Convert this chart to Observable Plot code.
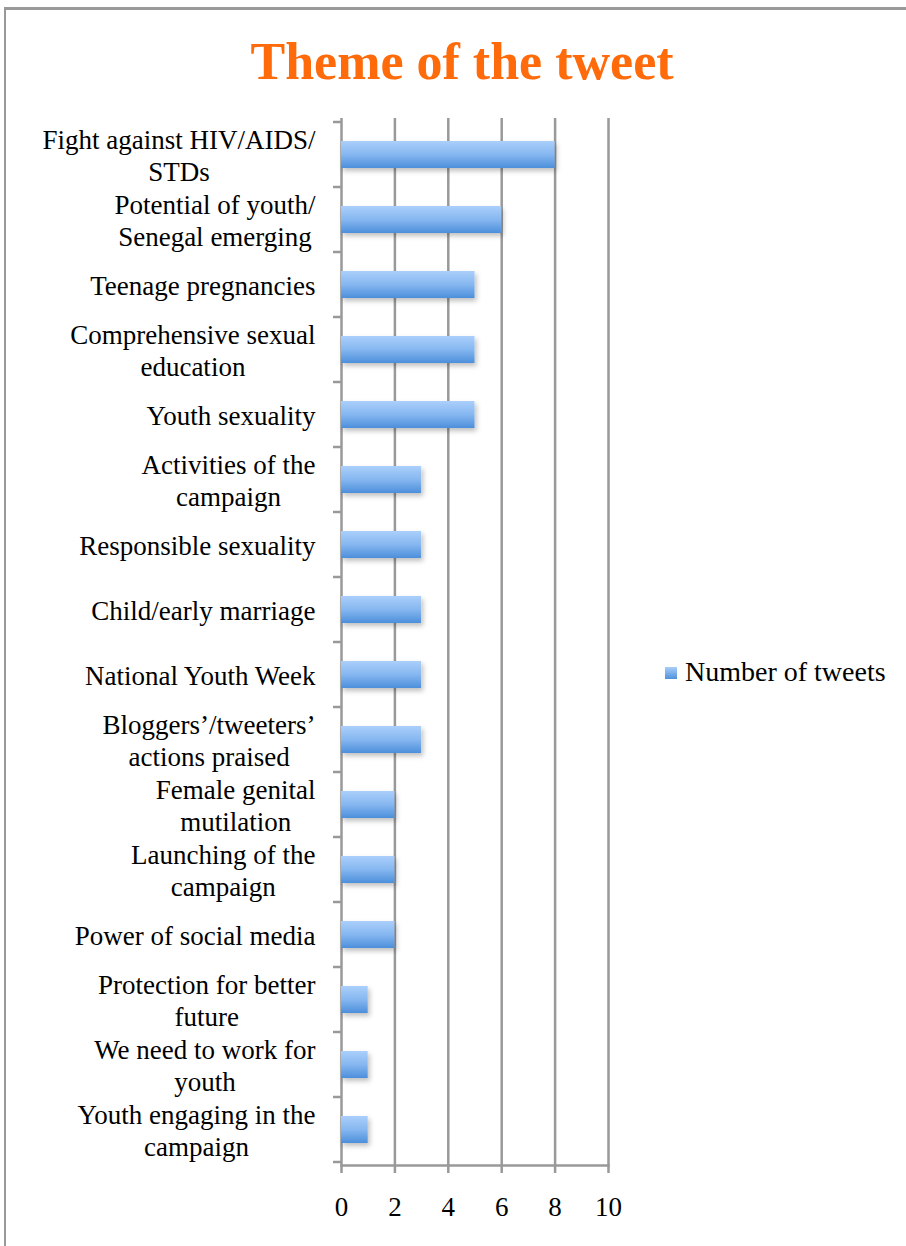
<!DOCTYPE html>
<html>
<head>
<meta charset="utf-8">
<script src="https://cdn.jsdelivr.net/npm/d3@7"></script>
<script src="https://cdn.jsdelivr.net/npm/@observablehq/plot@0.6"></script>
<style>
  html, body { margin: 0; padding: 0; background: #fff; overflow: hidden; }
  body { width: 906px; height: 1246px; position: relative; font-family: "Liberation Serif", serif; }
  #frame { position: absolute; left: 4px; top: 7px; width: 1000px; height: 1400px; border-left: 2px solid #999; border-top: 3px solid #999; }
  #title { position: absolute; left: 0; width: 924px; top: 36px; text-align: center; font-family: "Liberation Serif", serif; font-weight: bold; font-size: 52px; color: #ff6a0a; line-height: 1; }
  #chart { position: absolute; left: 0; top: 100px; }
  #legend { position: absolute; left: 665px; top: 656px; font-size: 28px; color: #000; display: flex; align-items: center; white-space: nowrap; }
  #legend .sw { width: 12px; height: 12px; background: linear-gradient(#a9cdf9, #4f91dc); margin-right: 8px; margin-top: 2px; }
</style>
</head>
<body>
<div id="frame"></div>
<div id="title">Theme of the tweet</div>
<div id="chart"></div>
<div id="legend"><span class="sw"></span><span>Number of tweets</span></div>
<script>
const themes = [
  "Fight against HIV/AIDS/\nSTDs",
  "Potential of youth/\nSenegal emerging",
  "Teenage pregnancies",
  "Comprehensive sexual\neducation",
  "Youth sexuality",
  "Activities of the\ncampaign",
  "Responsible sexuality",
  "Child/early marriage",
  "National Youth Week",
  "Bloggers’/tweeters’\nactions praised",
  "Female genital\nmutilation",
  "Launching of the\ncampaign",
  "Power of social media",
  "Protection for better\nfuture",
  "We need to work for\nyouth",
  "Youth engaging in the\ncampaign"
];
const tweetCounts = [8, 6, 5, 5, 5, 3, 3, 3, 3, 3, 2, 2, 2, 1, 1, 1];
const xTicks = [0, 2, 4, 6, 8, 10];
const seriesName = "Number of tweets";

const data = themes.map((t, i) => ({theme: t, count: tweetCounts[i]}));

const chart = Plot.plot({
  width: 906,
  height: 1146,
  marginTop: 18,
  marginBottom: 81,
  marginLeft: 341,
  marginRight: 298,
  style: {fontFamily: "Liberation Serif, serif", fontSize: "27px", color: "#000", background: "transparent"},
  x: {domain: [0, 10], ticks: xTicks},
  y: {domain: themes, paddingInner: 0.59, paddingOuter: 0.295},
  marks: [
    Plot.gridX(xTicks, {stroke: "#999", strokeOpacity: 1, strokeWidth: 2.5}),
    Plot.frame({anchor: "bottom", stroke: "#999", strokeWidth: 2.5}),
    Plot.barX(data, {x: "count", y: "theme", fill: "url(#barGrad)"}),
    Plot.axisX({ticks: xTicks, tickSize: 8, stroke: "#999", strokeWidth: 2.5, tickPadding: 23, fontSize: 27, label: null, tickFormat: d => String(d)}),
    Plot.axisY({tickSize: 0, tickPadding: 26, fontSize: 27, lineHeight: 1.185, label: null, textAnchor: "end"})
  ]
});

document.getElementById("chart").appendChild(chart);

const svg = d3.select(chart);
const defs = svg.insert("defs", ":first-child");
const g = defs.append("linearGradient").attr("id", "barGrad").attr("x1", 0).attr("y1", 0).attr("x2", 0).attr("y2", 1);
g.append("stop").attr("offset", "0%").attr("stop-color", "#abcffb");
g.append("stop").attr("offset", "50%").attr("stop-color", "#86b7f0");
g.append("stop").attr("offset", "100%").attr("stop-color", "#4c8fdb");
const f = defs.append("filter").attr("id", "shadow").attr("x", "-10%").attr("y", "-40%").attr("width", "130%").attr("height", "190%");
f.append("feDropShadow").attr("dx", 2).attr("dy", 3).attr("stdDeviation", 2.5).attr("flood-color", "#000").attr("flood-opacity", 0.25);
svg.selectAll('g[aria-label="bar"]').attr("filter", "url(#shadow)");

// Category tick marks at band boundaries on the left axis
const ys = chart.scale("y");
const xs = chart.scale("x");
const step = ys.step;
const x0 = xs.apply(0);
const bounds = themes.map(t => ys.apply(t) + ys.bandwidth / 2 - step / 2);
bounds.push(ys.apply(themes[themes.length - 1]) + ys.bandwidth / 2 + step / 2);
svg.append("g").attr("stroke", "#999").attr("stroke-width", 2.5)
  .selectAll("line").data(bounds).join("line")
  .attr("x1", x0 - 8).attr("x2", x0).attr("y1", d => d).attr("y2", d => d);

// Center the lines of multi-line labels within their right-aligned block
svg.selectAll('g[aria-label="y-axis tick label"] text').each(function() {
  const tspans = d3.select(this).selectAll("tspan");
  if (tspans.size() < 2) return;
  let w = 0;
  tspans.each(function() { w = Math.max(w, this.getComputedTextLength()); });
  d3.select(this).attr("text-anchor", "middle");
  tspans.attr("x", -w / 2);
});
</script>
</body>
</html>
